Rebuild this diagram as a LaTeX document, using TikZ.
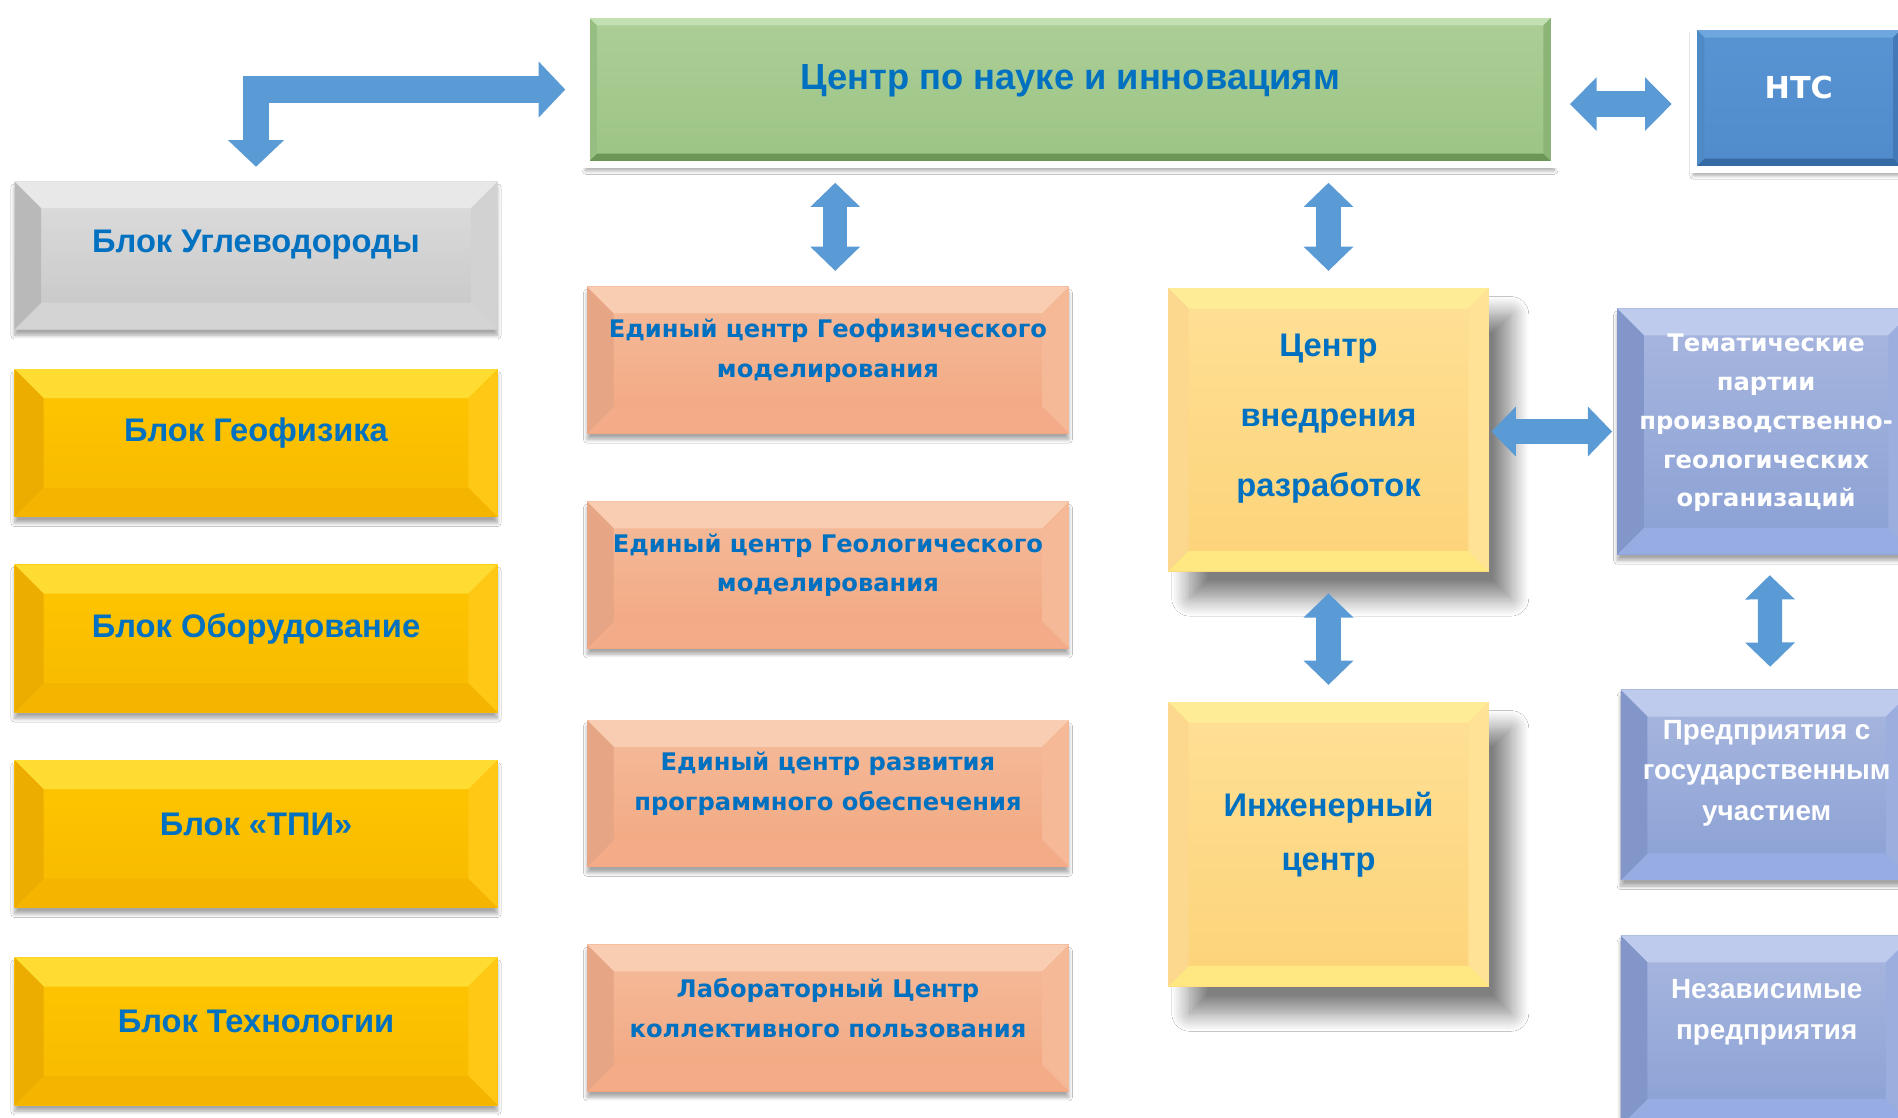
\documentclass[tikz,border=0pt]{standalone}
\usepackage{fontspec}
\newfontfamily\narrowfont{Liberation Sans}
\newfontfamily\widefont{DejaVu Sans}
\usetikzlibrary{arrows.meta, calc, shadows.blur}

\definecolor{txtblue}{RGB}{0,112,192}
\definecolor{arrowblue}{RGB}{91,155,213}
% gray block
\definecolor{grayA}{RGB}{222,222,222}
\definecolor{grayB}{RGB}{198,198,198}
\definecolor{grayT}{RGB}{232,232,232}
\definecolor{grayR}{RGB}{210,210,210}
\definecolor{grayD}{RGB}{212,212,212}
\definecolor{grayL}{RGB}{185,185,185}
% gold blocks
\definecolor{goldA}{RGB}{255,198,0}
\definecolor{goldB}{RGB}{247,185,0}
\definecolor{goldT}{RGB}{255,220,50}
\definecolor{goldR}{RGB}{255,200,20}
\definecolor{goldD}{RGB}{244,180,0}
\definecolor{goldL}{RGB}{236,172,0}
% salmon centres
\definecolor{salA}{RGB}{245,188,155}
\definecolor{salB}{RGB}{242,166,128}
\definecolor{salT}{RGB}{248,205,178}
\definecolor{salR}{RGB}{245,185,152}
\definecolor{salD}{RGB}{243,172,135}
\definecolor{salL}{RGB}{230,165,132}
% light yellow centres
\definecolor{sandA}{RGB}{254,224,150}
\definecolor{sandB}{RGB}{253,211,120}
\definecolor{sandT}{RGB}{255,236,150}
\definecolor{sandR}{RGB}{255,226,150}
\definecolor{sandD}{RGB}{255,232,130}
\definecolor{sandL}{RGB}{251,216,142}
% lilac partners
\definecolor{lilA}{RGB}{168,183,223}
\definecolor{lilB}{RGB}{138,160,212}
\definecolor{lilT}{RGB}{190,203,236}
\definecolor{lilR}{RGB}{155,174,222}
\definecolor{lilD}{RGB}{150,172,226}
\definecolor{lilL}{RGB}{130,150,202}
% top boxes
\definecolor{grnA}{RGB}{172,206,152}
\definecolor{grnB}{RGB}{156,196,132}
\definecolor{grnT}{RGB}{194,224,178}
\definecolor{grnR}{RGB}{140,180,118}
\definecolor{grnD}{RGB}{108,150,88}
\definecolor{grnL}{RGB}{150,190,130}
\definecolor{ntcA}{RGB}{88,148,210}
\definecolor{ntcB}{RGB}{80,140,204}
\definecolor{ntcT}{RGB}{110,166,222}
\definecolor{ntcR}{RGB}{66,122,184}
\definecolor{ntcD}{RGB}{54,106,164}
\definecolor{ntcL}{RGB}{78,138,198}

\tikzset{
  bevel size/.store in=\bevsz, bevel size=20pt,
  bevel/.style n args={4}{path picture={
    \fill[#1] (path picture bounding box.north west) -- (path picture bounding box.north east)
      -- ([shift={(-\bevsz,-\bevsz)}]path picture bounding box.north east)
      -- ([shift={(\bevsz,-\bevsz)}]path picture bounding box.north west) -- cycle;
    \fill[#2] (path picture bounding box.north east) -- (path picture bounding box.south east)
      -- ([shift={(-\bevsz,\bevsz)}]path picture bounding box.south east)
      -- ([shift={(-\bevsz,-\bevsz)}]path picture bounding box.north east) -- cycle;
    \fill[#3] (path picture bounding box.south east) -- (path picture bounding box.south west)
      -- ([shift={(\bevsz,\bevsz)}]path picture bounding box.south west)
      -- ([shift={(-\bevsz,\bevsz)}]path picture bounding box.south east) -- cycle;
    \fill[#4] (path picture bounding box.south west) -- (path picture bounding box.north west)
      -- ([shift={(\bevsz,-\bevsz)}]path picture bounding box.north west)
      -- ([shift={(\bevsz,\bevsz)}]path picture bounding box.south west) -- cycle;
  }}
}

\begin{document}
\begin{tikzpicture}[x=1pt, y=1pt,
  box/.style={rectangle, inner sep=0pt},
  lowshadow/.style={blur shadow={shadow xshift=0pt, shadow yshift=-5pt, shadow blur radius=3pt, shadow blur steps=8, shadow opacity=35}},
  deepshadow/.style={blur shadow={shadow xshift=18pt, shadow yshift=-22pt, shadow blur radius=15pt, shadow blur steps=16, shadow opacity=50}},
  graybox/.style={box, lowshadow, minimum width=399pt, minimum height=122pt, top color=grayA, bottom color=grayB, bevel size=22pt, bevel={grayT}{grayR}{grayD}{grayL}},
  goldbox/.style={box, lowshadow, minimum width=399pt, minimum height=122pt, top color=goldA, bottom color=goldB, bevel size=24pt, bevel={goldT}{goldR}{goldD}{goldL}},
  salmonbox/.style={box, lowshadow, minimum width=398pt, minimum height=121pt, top color=salA, bottom color=salB, bevel size=22pt, bevel={salT}{salR}{salD}{salL}},
  sandbox/.style={box, deepshadow, minimum width=265pt, top color=sandA, bottom color=sandB, bevel size=17pt, bevel={sandT}{sandR}{sandD}{sandL}},
  lilacbox/.style={box, lowshadow, minimum width=244pt, top color=lilA, bottom color=lilB, bevel size=22pt, bevel={lilT}{lilR}{lilD}{lilL}},
  framedbox/.style={box, lowshadow, draw=white, line width=6pt, bevel size=9pt},
  blocktext/.style={font=\narrowfont\bfseries\fontsize{27}{#1}\selectfont, text=txtblue, align=center},
  blocktext/.default=33,
  widetext/.style={font=\widefont\bfseries\fontsize{20}{#1}\selectfont, text=txtblue, align=center},
  widetext/.default=33,
  lilactext/.style={font=\narrowfont\bfseries\fontsize{23}{33.5}\selectfont, text=white, align=center},
  linkarrow/.style={draw=arrowblue, line width=20pt, >={Triangle[width=40pt,length=20pt]}, <->},
]
\useasboundingbox (0,0) rectangle (1568,923);
\fill[white] (0,0) rectangle (1568,923);
\clip (0,0) rectangle (1568,923);

% Top row
\node[framedbox, minimum width=800pt, minimum height=124pt, top color=grnA, bottom color=grnB,
  bevel={grnT}{grnR}{grnD}{grnL}] (main) at (884,849) {};
\node[blocktext, font=\narrowfont\bfseries\fontsize{30}{36}\selectfont] (main-t) at (884,856) {Центр по науке и инновациям};
\node[framedbox, minimum width=174pt, minimum height=118pt, top color=ntcA, bottom color=ntcB,
  bevel={ntcT}{ntcR}{ntcD}{ntcL}] (ntc) at (1486,842) {};
\node[font=\widefont\bfseries\fontsize{25}{30}\selectfont, text=white] (ntc-t) at (1486,851) {НТС};

% Blocks
\node[graybox] (uv) at (211.5,712) {};
\node[blocktext] (uv-t) at ([yshift=9pt]uv.center) {Блок Углеводороды};
\foreach \nm/\yc/\txt in {geo/557/Блок Геофизика, obor/395.5/Блок Оборудование,
    tpi/234/Блок «ТПИ», tech/71/Блок Технологии} {
  \node[goldbox] (\nm) at (211.5,\yc) {};
  \node[blocktext] (\nm-t) at ([yshift=8pt]\nm.center) {\txt};
}

% Unified centres
\foreach \nm/\yc/\txt in {s1/625.5/{Единый центр Геофизического\\моделирования},
    s2/448/{Единый центр Геологического\\моделирования},
    s3/267.5/{Единый центр развития\\программного обеспечения},
    s4/82/{Лабораторный Центр\\коллективного пользования}} {
  \node[salmonbox] (\nm) at (684,\yc) {};
  \node[widetext] (\nm-t) at ([yshift=8pt]\nm.center) {\txt};
}

% Implementation and engineering
\node[sandbox, minimum height=234pt] (cv) at (1097.5,568) {};
\node[blocktext=58] (cv-t) at ([yshift=9pt]cv.center) {Центр\\внедрения\\разработок};
\node[sandbox, minimum height=235pt] (ing) at (1097.5,225.5) {};
\node[blocktext=44] (ing-t) at ([yshift=8pt]ing.center) {Инженерный\\центр};

% Partners
\node[lilacbox, minimum width=246pt, minimum height=203pt] (tem) at (1459,566.5) {};
\node[widetext=32, text=white] (tem-t) at ([yshift=7pt]tem.center)
  {Тематические\\партии\\производственно-\\геологических\\организаций};
\node[lilacbox, minimum width=241pt, minimum height=157pt] (pred) at (1459.5,274.5) {};
\node[lilactext] (pred-t) at ([yshift=10pt]pred.center) {Предприятия с\\государственным\\участием};
\node[lilacbox, minimum width=241pt, minimum height=157pt] (nez) at (1459.5,71.5) {};
\node[lilactext] (nez-t) at ([yshift=15pt]nez.center) {Независимые\\предприятия};

% Arrows
\draw[linkarrow, line width=22pt, >={Triangle[width=45pt,length=22pt]}, line join=miter,
  shorten <=12pt, shorten >=14pt] (uv.north) -- (uv.north |- main.west) -- (main.west);
\draw[linkarrow, line width=21pt, >={Triangle[width=43pt,length=22pt]},
  shorten <=10pt, shorten >=15pt] ($(main.east)+(0,-12)$) -- ($(ntc.west)+(0,-5)$);
\draw[linkarrow, shorten <=12pt, shorten >=13pt] ($(s1.north |- main.south)+(6,0)$) -- ($(s1.north)+(6,0)$);
\draw[linkarrow, shorten <=12pt, shorten >=14pt] (cv.north |- main.south) -- (cv.north);
\draw[linkarrow, shorten <=18pt, shorten >=14pt] (cv.south) -- (ing.north);
\draw[linkarrow, shorten <=2pt, shorten >=4pt] (cv.east |- tem.west) -- (tem.west);
\draw[linkarrow, shorten <=17pt, shorten >=19pt] ($(tem.south)+(3,0)$) -- ($(pred.north)+(3,0)$);
\end{tikzpicture}
\end{document}
